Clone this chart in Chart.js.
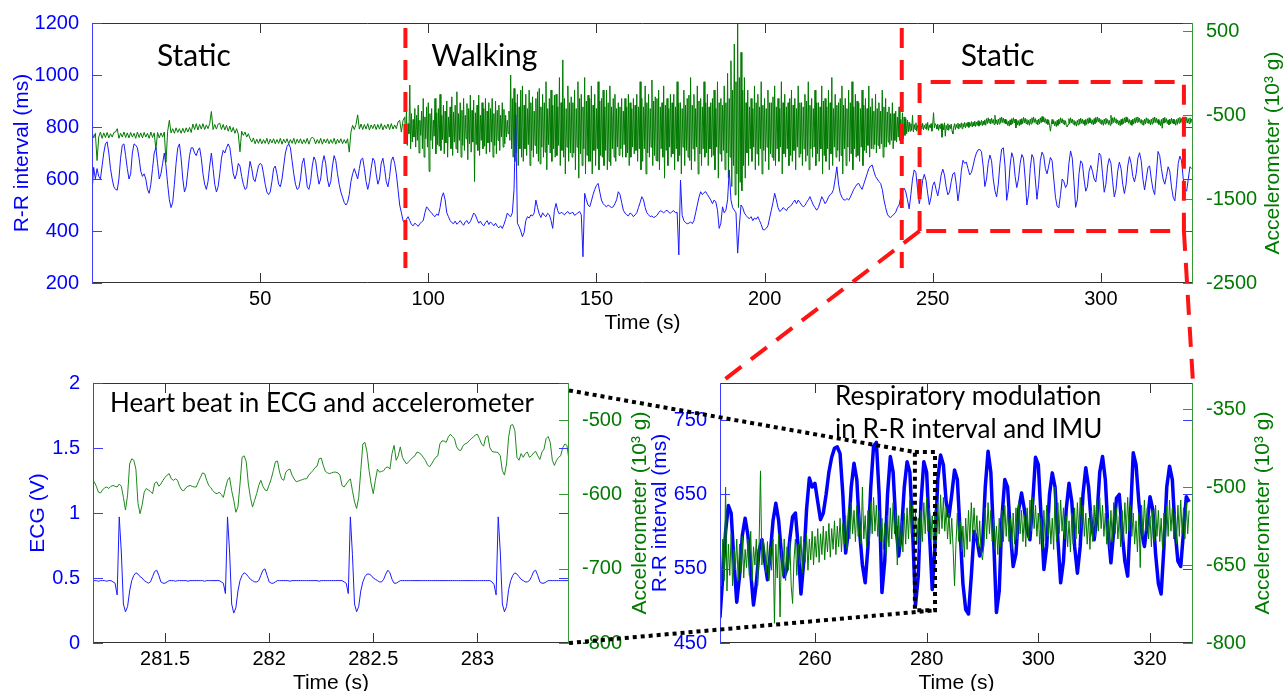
<!DOCTYPE html>
<html>
<head>
<meta charset="utf-8">
<script src="https://cdn.jsdelivr.net/npm/chart.js@4.4.0/dist/chart.umd.min.js"></script>
<style>
  html, body { margin: 0; padding: 0; background: #fff; }
  #wrap { position: relative; width: 1283px; height: 691px; overflow: hidden; background: #fff; }
  canvas { position: absolute; }
</style>
</head>
<body>
<div id="wrap">
  <canvas id="topChart" width="1283" height="340" style="left:0;top:0"></canvas>
  <canvas id="ecgChart" width="660" height="351" style="left:0;top:340px"></canvas>
  <canvas id="zoomChart" width="643" height="351" style="left:640px;top:340px"></canvas>
  <canvas id="overlay" width="1283" height="691" style="left:0;top:0;pointer-events:none"></canvas>
</div>
<script>
// R-R interval (ms), one value every 0.5 s from 0 s
const rrStep = 0.5;
const rr = [
  546,645,600,640,610,600,650,700,735,743,
  700,640,600,570,560,557,600,680,730,735,
  690,640,600,620,700,735,730,720,680,630,
  610,620,600,560,545,580,640,700,720,660,
  600,620,660,700,650,580,520,490,510,580,
  660,720,735,680,600,550,570,630,690,720,
  720,700,690,710,720,680,620,580,560,590,
  650,700,640,580,550,570,620,680,710,700,
  720,735,720,670,620,600,620,660,650,610,
  580,560,565,620,668,640,600,590,620,650,
  660,655,620,580,550,540,550,590,640,650,
  620,580,570,600,650,700,725,735,720,670,
  620,580,560,565,600,660,680,630,570,560,
  590,650,685,670,620,580,600,660,690,660,
  600,570,590,650,690,670,620,580,550,530,
  510,500,510,540,590,620,640,620,600,640,
  675,680,640,590,560,590,640,680,670,620,
  580,600,660,680,640,590,570,610,670,685,
  660,620,560,500,470,440,430,445,455,440,
  425,420,430,425,418,428,435,440,470,493,
  485,475,470,460,455,465,460,490,530,547,
  520,470,455,440,432,428,438,426,432,440,
  430,422,435,440,428,436,452,469,462,445,
  430,438,426,420,432,440,425,435,428,420,
  430,418,412,420,410,425,445,469,460,455,
  470,560,846,430,417,400,378,395,440,455,
  450,462,458,470,519,490,465,452,470,460,
  455,468,462,440,410,480,506,478,465,472,
  468,462,470,475,466,469,472,460,465,470,
  475,462,301,545,520,500,493,515,540,560,
  575,583,550,519,505,498,493,500,495,490,
  493,505,520,551,540,510,480,469,462,458,
  469,465,455,462,470,490,510,532,520,490,
  470,462,455,458,452,455,460,470,478,475,
  470,476,480,472,468,475,478,470,472,308,
  596,460,440,432,428,430,435,428,440,470,
  500,530,551,540,548,551,540,530,519,505,
  519,512,480,410,430,493,470,480,520,635,
  520,490,480,470,315,420,500,490,469,460,
  452,448,455,440,450,445,455,440,425,405,
  405,410,420,450,480,510,545,520,490,475,
  480,490,485,478,490,493,500,510,519,505,
  519,510,500,493,498,510,520,532,515,500,
  490,480,490,510,532,520,505,515,530,540,
  545,560,600,647,580,545,530,520,519,525,
  519,530,545,560,570,580,583,570,560,580,
  600,620,640,650,654,630,610,600,590,583,
  560,520,490,465,455,452,458,465,472,490,
  500,530,557,565,550,520,485,540,600,635,
  625,560,505,540,595,618,595,545,501,530,
  575,589,560,535,570,615,638,615,570,539,
  550,590,620,625,580,516,560,630,672,660,
  665,640,616,625,650,680,700,712,714,705,
  650,571,600,660,692,670,600,555,531,580,
  660,715,720,650,518,560,650,701,680,610,
  567,600,660,694,680,600,500,540,640,694,
  680,600,522,580,670,703,690,640,620,650,
  683,670,600,530,495,489,540,600,590,567,
  580,660,708,680,590,491,520,620,670,660,
  600,553,570,630,652,630,600,589,640,700,
  690,620,549,580,650,679,660,590,531,560,
  630,665,640,580,544,580,650,686,660,610,
  589,620,680,701,670,600,558,600,645,650,
  600,560,540,620,706,690,640,600,580,610,
  647,630,570,530,516,580,660,688,670,600,
  560,553,600,647,640
];

// accelerometer (10^3 g): first static phase, every 0.5 s from 0 s
const accRestStep = 0.5;
const accRest = [
  -700,-770,-715,-1040,-760,-700,-775,-710,-765,-705,
  -770,-720,-760,-705,-700,-660,-775,-715,-760,-700,
  -765,-710,-770,-705,-760,-715,-775,-700,-765,-710,
  -770,-705,-760,-715,-775,-700,-765,-710,-910,-705,
  -770,-710,-760,-700,-1060,-690,-560,-710,-660,-715,
  -650,-705,-660,-715,-655,-710,-650,-700,-645,-705,
  -605,-670,-600,-675,-610,-665,-600,-670,-615,-660,
  -600,-455,-670,-610,-665,-605,-595,-670,-610,-675,
  -620,-690,-630,-700,-645,-715,-660,-725,-935,-690,
  -740,-700,-760,-720,-780,-820,-770,-840,-785,-835,
  -780,-840,-790,-835,-775,-845,-785,-830,-780,-840,
  -790,-835,-775,-845,-785,-830,-780,-840,-790,-835,
  -775,-845,-785,-830,-780,-840,-790,-835,-775,-845,
  -785,-760,-780,-840,-790,-835,-775,-845,-785,-830,
  -780,-840,-790,-835,-775,-845,-785,-830,-780,-840,
  -790,-835,-780,-940,-700,-620,-670,-610,-495,-665,
  -605,-670,-610,-665,-600,-675,-615,-660,-605,-670,
  -610,-665,-600,-675,-615,-660,-605,-670,-600,-665,
  -615,-660,-580,-560,-700,-560
];

// accelerometer while walking, every 0.25 s from 93 s
const accWalkStart = 93;
const accWalkStep = 0.25;
const accWalk = [
  -520,-780,-430,-860,-600,-720,-140,-900,-480,-820,-550,-760,-420,-880,-500,-800,-380,-950,-560,-740,
  -450,-900,-300,-1000,-520,-780,-400,-880,-350,-1170,-480,-800,-420,-900,-560,-750,-300,-960,-470,-850,
  -420,-870,-250,-920,-500,-790,-380,-960,-450,-830,-330,-1000,-520,-760,-400,-900,-280,-980,-460,-820,
  -380,-900,-220,-950,-480,-800,-350,-1000,-440,-860,-300,-920,-500,-780,-360,-1030,-420,-840,-260,-940,
  -440,-820,-320,-1290,-470,-850,-380,-920,-260,-980,-500,-800,-350,-900,-420,-870,-300,-960,-450,-830,
  -350,-940,-420,-820,-300,-1000,-480,-860,-330,-960,-440,-800,-380,-920,-500,-760,-350,-880,-430,-840,
  -500,-760,-560,-720,-450,-800,-20,-900,-300,-1000,-180,-1050,-350,-950,-250,-1100,-400,-900,-200,-1000,
  -150,-1050,-380,-900,-250,-980,-420,-850,-200,-1100,-350,-920,-280,-1000,-450,-860,-300,-960,-220,-1050,
  -180,-1080,-400,-880,-250,-1000,-350,-940,-100,-1150,-420,-850,-300,-950,-200,-1050,-380,-900,-260,-1000,
  -250,-980,-400,-860,-50,-1100,-350,-920,160,-1000,-300,-1200,-420,-880,-150,-1050,-350,-950,-280,-1000,
  -350,-950,-200,-1150,-420,-880,-100,-1250,-300,-960,-250,-1100,-400,-900,-50,-1200,-330,-980,-260,-1050,
  -300,-1050,-150,-1200,-380,-920,-250,-1100,-420,-900,-100,-1150,-330,-980,-300,-1000,-200,-1100,-400,-920,
  -200,-1150,-350,-1050,-150,-1100,-400,-900,-300,-1000,-250,-1050,-420,-880,-350,-980,-400,-900,-300,-1000,
  -450,-850,-300,-1000,-400,-950,-250,-1100,-350,-1000,-420,-880,-300,-960,-380,-920,-250,-1050,-400,-900,
  -100,-1150,-300,-1050,-400,-900,-150,-1200,-350,-950,-250,-1000,-420,-880,-80,-1100,-330,-980,-280,-1040,
  -300,-1050,-200,-1150,-400,-900,-350,-1000,-150,-1250,-380,-920,-300,-1100,-420,-880,-250,-1000,-350,-960,
  -250,-1150,-400,-900,-100,-1050,-350,-980,-350,-1200,-420,-880,-200,-1100,-380,-920,-300,-1000,-260,-1040,
  -50,-1150,-380,-900,-250,-1050,-420,-880,-150,-1200,-330,-960,-300,-1100,-400,-900,-100,-1000,-350,-950,
  -250,-1100,-400,-900,-350,-1000,-300,-980,-200,-1150,-420,-880,-100,-1250,-350,-960,-300,-1050,-380,-920,
  -150,-1150,-350,-950,0,-1250,-300,-1000,150,-1350,-200,-1100,350,-1450,-100,-1200,600,-1600,-50,-1300,
  250,-1400,-200,-1100,-50,-1250,-350,-950,-200,-1100,-400,-900,-300,-1050,-420,-880,-150,-1150,-350,-960,
  -250,-1100,-400,-900,-100,-1200,-380,-920,-300,-1050,-420,-880,-200,-1150,-350,-960,-350,-1000,-280,-1040,
  -150,-1100,-400,-900,-300,-1050,-420,-880,-100,-1200,-350,-960,-250,-1000,-400,-900,-350,-1100,-300,-980,
  -200,-1050,-380,-920,-300,-1150,-420,-880,-150,-1000,-350,-960,-350,-1100,-400,-900,-250,-1050,-330,-980,
  -100,-1150,-380,-900,-300,-1000,-420,-880,-200,-1100,-350,-960,-350,-1050,-400,-900,-150,-1200,-330,-980,
  -300,-1050,-400,-900,-200,-1150,-350,-960,-50,-1100,-420,-880,-250,-1000,-380,-920,-350,-1050,-300,-980,
  -150,-1200,-380,-900,-300,-1100,-420,-880,-200,-1050,-350,-960,-100,-1150,-400,-900,-250,-1000,-330,-980,
  -350,-1050,-420,-880,-200,-1100,-380,-920,-300,-950,-420,-860,-150,-1000,-400,-900,-300,-900,-450,-850,
  -250,-950,-420,-860,-350,-900,-450,-840,-200,-1000,-400,-880,-300,-880,-460,-820,-400,-850,-480,-800,
  -350,-900,-480,-800,-450,-820,-520,-760,-400,-800,-550,-720
];

// accelerometer back at rest, every 0.25 s from 241 s
const accCalmStart = 241;
const accCalmStep = 0.25;
const accCalm = [
  -470,-780,-520,-740,-540,-720,-560,-700,-580,-690,-600,-680,-500,-700,-610,-670,-590,-690,-620,-660,
  -600,-680,-610,-665,-595,-675,-620,-655,-600,-670,-585,-680,-615,-650,-600,-690,-610,-469,-650,-600,
  -620,-665,-605,-680,-615,-660,-600,-762,-610,-675,-590,-750,-620,-670,-600,-680,-615,-660,-605,-690,
  -724,-640,-600,-670,-610,-650,-595,-665,-605,-645,-590,-660,-600,-640,-585,-650,-595,-635,-580,-645,
  -590,-630,-575,-640,-585,-625,-570,-635,-580,-620,-565,-630,-575,-615,-560,-625,-570,-610,-555,-620,
  -540,-600,-530,-590,-545,-605,-535,-595,-550,-610,-500,-600,-555,-615,-545,-605,-530,-590,-520,-585,
  -535,-595,-545,-605,-560,-620,-570,-630,-555,-615,-540,-600,-530,-590,-545,-650,-555,-615,-565,-625,
  -550,-610,-540,-600,-525,-590,-535,-600,-550,-610,-560,-620,-545,-605,-530,-590,-520,-585,-540,-600,
  -555,-615,-545,-605,-530,-590,-515,-580,-520,-585,-540,-600,-550,-610,-560,-620,-690,-610,-550,-605,
  -565,-625,-575,-635,-560,-620,-545,-605,-530,-590,-540,-600,-555,-615,-565,-625,-640,-610,-540,-600,
  -530,-590,-545,-605,-560,-620,-575,-630,-560,-615,-545,-605,-535,-595,-545,-605,-560,-620,-550,-610,
  -540,-600,-530,-590,-545,-605,-555,-615,-540,-600,-525,-585,-520,-580,-535,-595,-550,-610,-560,-620,
  -545,-605,-535,-595,-550,-610,-560,-620,-500,-605,-530,-590,-525,-585,-540,-600,-555,-615,-565,-625,
  -550,-610,-540,-600,-530,-590,-520,-580,-535,-595,-550,-610,-560,-620,-545,-605,-535,-595,-525,-585,
  -520,-580,-535,-595,-550,-610,-560,-620,-545,-605,-530,-590,-540,-600,-555,-615,-545,-605,-530,-590,
  -520,-585,-535,-595,-550,-610,-565,-625,-550,-655,-535,-595,-525,-585,-540,-600,-555,-615,-545,-605,
  -535,-595,-545,-605,-560,-620,-550,-610,-535,-595,-525,-585,-540,-600,-550,-610,-535,-595,-525,-590,
  -540,-600,-530,-590,-545
];

// heart beat close-up: ECG (V) and accelerometer (10^3 g), every 0.01 s from 281.15 s
const beatStart = 281.15;
const beatStep = 0.01;
const ecg = [
  0.48,0.48,0.48,0.475,0.48,0.48,0.48,0.475,0.48,0.48,
  0.47,0.46,0.37,0.97,0.70,0.30,0.24,0.28,0.40,0.48,
  0.52,0.54,0.53,0.51,0.50,0.48,0.47,0.46,0.47,0.51,
  0.55,0.56,0.52,0.47,0.46,0.46,0.47,0.48,0.48,0.48,
  0.475,0.48,0.48,0.48,0.48,0.48,0.475,0.48,0.48,0.48,
  0.48,0.48,0.48,0.48,0.475,0.48,0.48,0.48,0.48,0.48,
  0.48,0.48,0.47,0.46,0.38,0.97,0.70,0.30,0.23,0.27,
  0.40,0.48,0.52,0.54,0.53,0.51,0.49,0.48,0.47,0.47,
  0.48,0.52,0.56,0.57,0.52,0.47,0.46,0.46,0.47,0.48,
  0.48,0.48,0.48,0.48,0.48,0.475,0.48,0.48,0.48,0.48,
  0.48,0.48,0.48,0.48,0.48,0.48,0.48,0.48,0.48,0.475,
  0.48,0.48,0.48,0.48,0.48,0.48,0.48,0.48,0.48,0.48,
  0.48,0.47,0.46,0.38,0.97,0.68,0.30,0.24,0.28,0.40,
  0.47,0.51,0.53,0.53,0.52,0.50,0.49,0.48,0.47,0.47,
  0.49,0.53,0.56,0.54,0.49,0.46,0.46,0.47,0.48,0.48,
  0.48,0.48,0.48,0.48,0.48,0.48,0.48,0.48,0.48,0.48,
  0.48,0.48,0.48,0.48,0.48,0.48,0.48,0.48,0.48,0.48,
  0.48,0.48,0.48,0.48,0.48,0.48,0.48,0.48,0.48,0.48,
  0.48,0.48,0.48,0.48,0.48,0.48,0.48,0.48,0.48,0.48,
  0.48,0.48,0.47,0.45,0.37,0.97,0.70,0.30,0.24,0.28,
  0.41,0.48,0.52,0.54,0.53,0.51,0.49,0.48,0.47,0.47,
  0.48,0.51,0.55,0.56,0.52,0.47,0.46,0.46,0.47,0.48,
  0.48,0.48,0.48,0.48,0.48,0.48,0.48,0.48,0.48,0.48
];
const beatAcc = [
  -583,-583,-589,-597,-598,-594,-591,-590,-592,-589,
  -588,-589,-590,-586,-589,-604,-621,-601,-559,-552,
  -554,-566,-612,-626,-614,-597,-592,-594,-596,-599,
  -585,-583,-589,-586,-581,-577,-574,-572,-579,-581,
  -579,-581,-589,-594,-595,-591,-589,-588,-589,-590,
  -590,-583,-577,-571,-572,-581,-588,-591,-595,-598,
  -599,-597,-600,-604,-592,-581,-577,-595,-608,-624,
  -617,-586,-550,-548,-556,-586,-604,-617,-608,-599,
  -588,-581,-589,-594,-595,-587,-579,-568,-556,-555,
  -570,-579,-581,-570,-567,-566,-574,-579,-583,-582,
  -581,-580,-579,-579,-574,-571,-568,-564,-562,-552,
  -551,-561,-569,-571,-572,-571,-570,-570,-571,-574,
  -588,-590,-586,-582,-579,-595,-610,-619,-604,-568,
  -532,-530,-543,-568,-586,-599,-581,-566,-570,-569,
  -568,-564,-563,-566,-545,-534,-554,-548,-536,-550,
  -555,-559,-556,-553,-550,-548,-543,-544,-546,-550,
  -554,-560,-563,-559,-554,-550,-548,-532,-528,-528,
  -530,-523,-519,-522,-525,-536,-540,-541,-535,-532,
  -531,-528,-525,-523,-520,-519,-525,-532,-535,-523,
  -521,-537,-542,-543,-543,-544,-548,-568,-574,-559,
  -523,-507,-506,-514,-550,-554,-545,-550,-545,-543,
  -550,-548,-544,-542,-548,-553,-543,-539,-525,-522,
  -530,-554,-561,-554,-550,-548,-537,-532,-534,-554
];

// axis ticks
const topTimeTicks = [50, 100, 150, 200, 250, 300];
const rrTicks = [200, 400, 600, 800, 1000, 1200];
const accTicks = [-2500, -1500, -500, 500];
const beatTimeTicks = [281.5, 282, 282.5, 283];
const ecgTicks = [0, 0.5, 1, 1.5, 2];
const beatAccTicks = [-800, -700, -600, -500];
const zoomTimeTicks = [260, 280, 300, 320];
const zoomRrTicks = [450, 550, 650, 750];
const zoomAccTicks = [-800, -650, -500, -350];

// annotations, in data units of the chart they sit on
const phaseMarks = [93.2, 240.8];
const phaseSpan = [258, 1181];
const zoomBox = { t0: 246.1, t1: 324.7, lo: 400, hi: 973 };
const beatBox = { t0: 277.9, t1: 281.5, lo: 494, hi: 707 };
const phaseLabels = [
  { text: 'Static', t: 19.3 },
  { text: 'Walking', t: 100.9 },
  { text: 'Static', t: 258.3 }
];

const BLUE = '#0000ff';
const GREEN = '#007a00';
const TICK_FONT = { family: 'Liberation Sans, Arial, sans-serif', size: 20 };
const TITLE_FONT = '21px "Liberation Sans", Arial, sans-serif';
const NOTE_FONT = 'Lato, "Open Sans", sans-serif';

const series = (vals, t0, dt) => vals.map((v, i) => ({ x: t0 + i * dt, y: v }));
const accSeries = series(accRest, 0, accRestStep)
  .concat(series(accWalk, accWalkStart, accWalkStep), series(accCalm, accCalmStart, accCalmStep));
const rrSeries = series(rr, 0, rrStep);

function vText(ctx, text, x, y, color) {
  ctx.save();
  ctx.translate(x, y);
  ctx.rotate(-Math.PI / 2);
  ctx.fillStyle = color;
  ctx.font = TITLE_FONT;
  ctx.textAlign = 'center';
  ctx.textBaseline = 'middle';
  ctx.fillText(text, 0, 0);
  ctx.restore();
}

// matlab style box: inward ticks on all sides and rotated axis titles
const framePlugin = {
  id: 'frame',
  afterDatasetsDraw(chart, args, o) {
    const { ctx, chartArea: a, scales } = chart;
    const x = scales.x, yl = scales.yl, yr = scales.yr;
    ctx.save();
    ctx.lineWidth = 1;
    ctx.setLineDash([]);

    ctx.strokeStyle = '#333';
    ctx.beginPath();
    x.ticks.forEach(t => {
      const p = Math.round(x.getPixelForValue(t.value)) + 0.5;
      ctx.moveTo(p, a.bottom); ctx.lineTo(p, a.bottom - 10);
      ctx.moveTo(p, a.top); ctx.lineTo(p, a.top + 10);
    });
    ctx.moveTo(a.left, a.top + 0.5); ctx.lineTo(a.right, a.top + 0.5);
    ctx.moveTo(a.left, a.bottom - 0.5); ctx.lineTo(a.right, a.bottom - 0.5);
    ctx.stroke();

    ctx.strokeStyle = '#3c3cff';
    ctx.beginPath();
    yl.ticks.forEach(t => {
      const p = Math.round(yl.getPixelForValue(t.value)) + 0.5;
      ctx.moveTo(a.left, p); ctx.lineTo(a.left + 10, p);
      ctx.moveTo(a.right, p); ctx.lineTo(a.right - 10, p);
    });
    ctx.moveTo(a.left + 0.5, a.top); ctx.lineTo(a.left + 0.5, a.bottom);
    ctx.stroke();

    ctx.strokeStyle = '#3a9a3a';
    ctx.beginPath();
    yr.ticks.forEach(t => {
      const p = Math.round(yr.getPixelForValue(t.value)) + 0.5;
      ctx.moveTo(a.right, p); ctx.lineTo(a.right - 10, p);
    });
    ctx.moveTo(a.right - 0.5, a.top); ctx.lineTo(a.right - 0.5, a.bottom);
    ctx.stroke();

    const midY = (a.top + a.bottom) / 2;
    vText(ctx, o.leftTitle, a.left + o.leftOffset, midY, BLUE);
    vText(ctx, o.rightTitle, a.right + o.rightOffset, midY, GREEN);
    ctx.fillStyle = '#000';
    ctx.font = TITLE_FONT;
    ctx.textAlign = 'center';
    ctx.textBaseline = 'middle';
    ctx.fillText('Time (s)', (a.left + a.right) / 2, a.bottom + 40);
    ctx.restore();
  }
};

function axis(position, color, min, max, ticks, width) {
  return {
    type: 'linear', position, min, max,
    grid: { display: false }, border: { display: false },
    ticks: { color, font: TICK_FONT, padding: 5, autoSkip: false, callback: v => String(v) },
    afterBuildTicks: s => { s.ticks = ticks.map(v => ({ value: v })); },
    afterFit: s => { s.width = width; }
  };
}

function makeChart(id, cfg) {
  return new Chart(document.getElementById(id), {
    type: 'line',
    data: { datasets: cfg.datasets },
    options: {
      responsive: false, animation: false, devicePixelRatio: 1, events: [],
      layout: { padding: { top: cfg.padTop, left: 0, right: 0, bottom: 0 } },
      elements: { point: { radius: 0 }, line: { tension: 0 } },
      plugins: { legend: { display: false }, tooltip: { enabled: false }, frame: cfg.frame },
      scales: {
        x: {
          type: 'linear', position: 'bottom', min: cfg.xMin, max: cfg.xMax,
          grid: { display: false }, border: { display: false },
          ticks: { color: '#000', font: TICK_FONT, padding: -4, autoSkip: false, maxRotation: 0, callback: v => String(v) },
          afterBuildTicks: s => { s.ticks = cfg.xTicks.map(v => ({ value: v })); },
          afterFit: s => { s.height = cfg.xHeight; }
        },
        yl: axis('left', BLUE, cfg.ylMin, cfg.ylMax, cfg.ylTicks, cfg.ylWidth),
        yr: axis('right', GREEN, cfg.yrMin, cfg.yrMax, cfg.yrTicks, cfg.yrWidth)
      }
    },
    plugins: [framePlugin]
  });
}

const line = (data, axisId, color, width) => ({
  data, yAxisID: axisId, borderColor: color, borderWidth: width,
  parsing: false, fill: false, pointRadius: 0, borderJoinStyle: 'round'
});

const topChart = makeChart('topChart', {
  padTop: 23, xHeight: 57, xMin: 0, xMax: 327.4, xTicks: topTimeTicks,
  ylMin: 200, ylMax: 1200, ylTicks: rrTicks, ylWidth: 92,
  yrMin: -2500, yrMax: 600, yrTicks: accTicks, yrWidth: 90,
  frame: { leftTitle: 'R-R interval (ms)', leftOffset: -70, rightTitle: 'Accelerometer (10³ g)', rightOffset: 80 },
  datasets: [
    line(rrSeries, 'yl', '#1a1aff', 1),
    line(accSeries, 'yr', GREEN, 1)
  ]
});

const ecgChart = makeChart('ecgChart', {
  padTop: 43, xHeight: 48, xMin: 281.154, xMax: 283.44, xTicks: beatTimeTicks,
  ylMin: 0, ylMax: 2, ylTicks: ecgTicks, ylWidth: 93,
  yrMin: -800, yrMax: -450, yrTicks: beatAccTicks, yrWidth: 91,
  frame: { leftTitle: 'ECG (V)', leftOffset: -55, rightTitle: 'Accelerometer (10³ g)', rightOffset: 71 },
  datasets: [
    line(series(ecg, beatStart, beatStep), 'yl', '#1a1aff', 1),
    line(series(beatAcc, beatStart, beatStep), 'yr', '#1f8a1f', 1)
  ]
});

const zoomChart = makeChart('zoomChart', {
  padTop: 43, xHeight: 48, xMin: 243, xMax: 327.7, xTicks: zoomTimeTicks,
  ylMin: 450, ylMax: 800, ylTicks: zoomRrTicks, ylWidth: 80,
  yrMin: -800, yrMax: -300, yrTicks: zoomAccTicks, yrWidth: 90,
  frame: { leftTitle: 'R-R interval (ms)', leftOffset: -60, rightTitle: 'Accelerometer (10³ g)', rightOffset: 70 },
  datasets: [
    line(accSeries, 'yr', GREEN, 1),
    line(rrSeries, 'yl', BLUE, 3.5)
  ]
});

// connectors, phase marks and notes drawn across the three charts
function drawOverlay() {
  const c = document.getElementById('overlay').getContext('2d');
  const X = (ch, v) => ch.scales.x.getPixelForValue(v) + ch.canvas.offsetLeft;
  const Y = (ch, ax, v) => ch.scales[ax].getPixelForValue(v) + ch.canvas.offsetTop;
  const seg = (x0, y0, x1, y1) => { c.beginPath(); c.moveTo(x0, y0); c.lineTo(x1, y1); c.stroke(); };

  c.strokeStyle = '#ff1414';
  c.lineWidth = 4;
  c.setLineDash([20, 12]);
  phaseMarks.forEach(t => seg(X(topChart, t), Y(topChart, 'yl', phaseSpan[1]), X(topChart, t), Y(topChart, 'yl', phaseSpan[0])));

  const bx0 = X(topChart, zoomBox.t0), bx1 = X(topChart, zoomBox.t1);
  const by0 = Y(topChart, 'yl', zoomBox.hi), by1 = Y(topChart, 'yl', zoomBox.lo);
  c.beginPath();
  c.moveTo(bx0, by1); c.lineTo(bx0, by0); c.lineTo(bx1, by0); c.lineTo(bx1, by1); c.lineTo(bx0, by1);
  c.stroke();
  const za = zoomChart.chartArea, zl = zoomChart.canvas.offsetLeft, zt = zoomChart.canvas.offsetTop;
  seg(bx0, by1, za.left + zl, za.top + zt);
  seg(bx1, by1, za.right + zl, za.top + zt);

  c.strokeStyle = '#000';
  c.setLineDash([4, 4]);
  const rx0 = X(zoomChart, beatBox.t0), rx1 = X(zoomChart, beatBox.t1);
  const ry0 = Y(zoomChart, 'yl', beatBox.hi), ry1 = Y(zoomChart, 'yl', beatBox.lo);
  c.beginPath();
  c.moveTo(rx0, ry0); c.lineTo(rx1, ry0); c.lineTo(rx1, ry1); c.lineTo(rx0, ry1); c.closePath();
  c.stroke();
  const ea = ecgChart.chartArea, el = ecgChart.canvas.offsetLeft, et = ecgChart.canvas.offsetTop;
  seg(ea.right + el, Y(ecgChart, 'yr', -460), rx0, ry0);
  seg(ea.right + el, ea.bottom + et, rx1, ry1);

  c.setLineDash([]);
  c.fillStyle = '#000';
  c.textAlign = 'left';
  c.textBaseline = 'alphabetic';
  c.font = '30px ' + NOTE_FONT;
  phaseLabels.forEach(l => c.fillText(l.text, X(topChart, l.t), Y(topChart, 'yl', 1035)));
  c.font = '26px ' + NOTE_FONT;
  c.fillText('Heart beat in ECG and accelerometer', X(ecgChart, 281.236), Y(ecgChart, 'yl', 1.777));
  c.fillText('Respiratory modulation', X(zoomChart, 263.6), Y(zoomChart, 'yl', 770));
  c.fillText('in R-R interval and IMU', X(zoomChart, 263.6), Y(zoomChart, 'yl', 726));
}
drawOverlay();
</script>
</body>
</html>
